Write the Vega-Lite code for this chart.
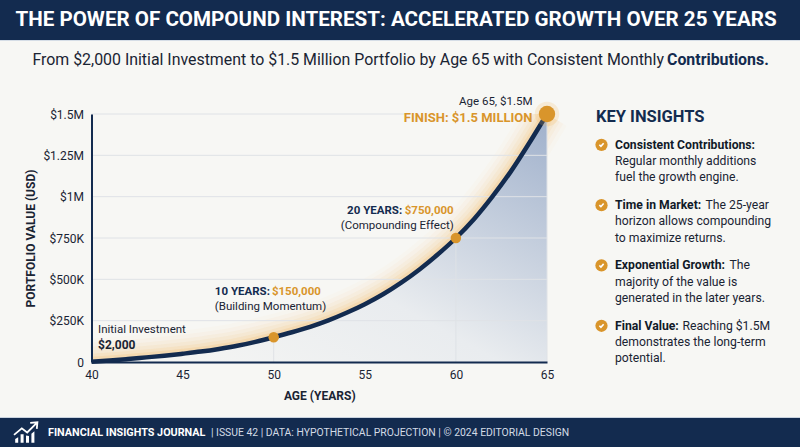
{
"$schema":"https://vega.github.io/schema/vega-lite/v6.json",
"padding":0,"background":"#f7f7f4","spacing":0,"bounds":"flush",
"config":{"view":{"stroke":null},"font":"Roboto","concat":{"spacing":0}},
"datasets":{
"curve":[{"age":40,"v":2000},{"age":41,"v":9000},{"age":42,"v":18000},{"age":43,"v":28000},{"age":44,"v":38000},{"age":45,"v":50000},{"age":46,"v":63000},{"age":47,"v":79000},{"age":48,"v":98000},{"age":49,"v":122000},{"age":50,"v":150000},{"age":51,"v":180000},{"age":52,"v":213000},{"age":53,"v":252000},{"age":54,"v":298000},{"age":55,"v":350000},{"age":56,"v":410000},{"age":57,"v":480000},{"age":58,"v":560000},{"age":59,"v":650000},{"age":60,"v":750000},{"age":61,"v":865000},{"age":62,"v":1000000},{"age":63,"v":1150000},{"age":64,"v":1320000},{"age":65,"v":1500000}],
"insights":[
{"item":1,"line":1,"indent":68,"weight":"b","text":"Consistent Contributions:"},
{"item":1,"line":2,"indent":68,"weight":"r","text":"Regular monthly additions"},
{"item":1,"line":3,"indent":68,"weight":"r","text":"fuel the growth engine."},
{"item":2,"line":1,"indent":68,"weight":"b","text":"Time in Market:"},
{"item":2,"line":1,"indent":158.5,"weight":"r","text":"The 25-year"},
{"item":2,"line":2,"indent":68,"weight":"r","text":"horizon allows compounding"},
{"item":2,"line":3,"indent":68,"weight":"r","text":"to maximize returns."},
{"item":3,"line":1,"indent":68,"weight":"b","text":"Exponential Growth:"},
{"item":3,"line":1,"indent":182.5,"weight":"r","text":"The"},
{"item":3,"line":2,"indent":68,"weight":"r","text":"majority of the value is"},
{"item":3,"line":3,"indent":68,"weight":"r","text":"generated in the later years."},
{"item":4,"line":1,"indent":68,"weight":"b","text":"Final Value:"},
{"item":4,"line":1,"indent":135.5,"weight":"r","text":"Reaching $1.5M"},
{"item":4,"line":2,"indent":68,"weight":"r","text":"demonstrates the long-term"},
{"item":4,"line":3,"indent":68,"weight":"r","text":"potential."}
],
"bullets":[{"item":1,"line":1,"indent":54.5},{"item":2,"line":1,"indent":54.5},{"item":3,"line":1,"indent":54.5},{"item":4,"line":1,"indent":54.5}]
},
"vconcat":[
{"width":800,"height":40,"view":{"fill":"#132b4f","stroke":null},"data":{"values":[{"t":"THE POWER OF COMPOUND INTEREST: ACCELERATED GROWTH OVER 25 YEARS"}]},
 "mark":{"type":"text","fontSize":20.6,"fontWeight":"bold","color":"#ffffff","dx":-4},"encoding":{"text":{"field":"t"}}},
{"width":800,"height":1,"view":{"fill":"#d5dde6","stroke":null},"data":{"values":[{"t":""}]},"mark":{"type":"text"},"encoding":{"text":{"field":"t"}}},
{"width":800,"height":38,"data":{"values":[{"run":"main","t":"From $2,000 Initial Investment to $1.5 Million Portfolio by Age 65 with Consistent Monthly"},{"run":"bold","t":"Contributions."}]},
 "layer":[
 {"transform":[{"filter":"datum.run==='main'"}],"mark":{"type":"text","fontSize":15.9,"align":"right","color":"#1a2433"},"encoding":{"x":{"field":"run","type":"nominal","axis":null,"scale":{"domain":["main","bold"],"range":[664,667],"padding":0}},"text":{"field":"t"}}},
 {"transform":[{"filter":"datum.run==='bold'"}],"mark":{"type":"text","fontSize":15.9,"fontWeight":"bold","align":"left","color":"#132b4f"},"encoding":{"x":{"field":"run","type":"nominal","axis":null,"scale":{"domain":["main","bold"],"range":[664,667],"padding":0}},"text":{"field":"t"}}}
 ]},
{"width":800,"height":35,"data":{"values":[{"t":""}]},"mark":{"type":"text"},"encoding":{"text":{"field":"t"}}},
{"width":800,"height":248,
 "title":{"text":"KEY INSIGHTS","anchor":"start","frame":"group","dx":596,"dy":29,"offset":-9,"baseline":"middle","fontSize":16.5,"fontWeight":"bold","color":"#132b4f","font":"Roboto"},
 "layer":[
 {"encoding":{"x":{"field":"age","type":"quantitative","scale":{"domain":[40,65],"nice":false,"range":[91.5,547]},"axis":{"labelFlush":false,"values":[40,45,50,55,60,65],"title":"AGE (YEARS)","titleFontSize":12,"titleFontWeight":"bold","titleColor":"#1a2433","titlePadding":10,"labelFontSize":12,"labelColor":"#1a2433","labelPadding":7,"ticks":false,"grid":false,"domainColor":"#132b4f","domainWidth":2,"zindex":1}},
   "y":{"field":"v","type":"quantitative","scale":{"domain":[0,1500000],"nice":false},"axis":{"labelFlush":false,"offset":-91.5,"values":[0,250000,500000,750000,1000000,1250000,1500000],"labelExpr":"datum.value==0?'0':datum.value>=1000000?'$'+datum.value/1000000+'M':'$'+datum.value/1000+'K'","title":"PORTFOLIO VALUE (USD)","titleFontSize":12,"titleFontWeight":"bold","titleColor":"#1a2433","titlePadding":5,"labelFontSize":12,"labelColor":"#1a2433","labelPadding":8,"ticks":false,"grid":false,"domainColor":"#132b4f","domainWidth":2,"zindex":1}}},
  "layer":[
  {"data":{"name":"curve"},"mark":{"type":"line","interpolate":"monotone","stroke":"#fbd8a4","strokeWidth":46,"opacity":0.06,"clip":true}},
  {"data":{"name":"curve"},"mark":{"type":"line","interpolate":"monotone","stroke":"#f9cc88","strokeWidth":38,"opacity":0.07,"clip":true}},
  {"data":{"name":"curve"},"mark":{"type":"line","interpolate":"monotone","stroke":"#f8c274","strokeWidth":30,"opacity":0.08,"clip":true}},
  {"data":{"name":"curve"},"mark":{"type":"line","interpolate":"monotone","stroke":"#f6b95f","strokeWidth":23,"opacity":0.09,"clip":true}},
  {"data":{"name":"curve"},"mark":{"type":"line","interpolate":"monotone","stroke":"#f4ac45","strokeWidth":16,"opacity":0.1,"clip":true}},
  {"data":{"name":"curve"},"mark":{"type":"line","interpolate":"monotone","stroke":"#f2a33a","strokeWidth":10,"opacity":0.14,"clip":true}},
  {"data":{"name":"curve"},"mark":{"type":"area","interpolate":"monotone","fill":{"gradient":"linear","x1":0,"y1":1,"x2":1,"y2":0,"stops":[{"offset":0,"color":"#f7f7f4"},{"offset":0.45,"color":"#e9ecef"},{"offset":1,"color":"#9fb0cb"}]}}},
  {"data":{"values":[{"g":250000,"a":40,"b":65},{"g":500000,"a":40,"b":65},{"g":750000,"a":40,"b":65},{"g":1000000,"a":40,"b":65},{"g":1250000,"a":40,"b":65},{"g":1500000,"a":40,"b":57.2}]},"mark":{"type":"rule","stroke":"#dfe2e6","strokeWidth":1},"encoding":{"y":{"field":"g","type":"quantitative"},"x":{"field":"a","type":"quantitative"},"x2":{"field":"b"}}},
  {"data":{"values":[{"a":50,"v":150000},{"a":60,"v":750000},{"a":65,"v":1500000}]},"mark":{"type":"rule","stroke":"#dfe2e6","strokeWidth":1},"encoding":{"x":{"field":"a","type":"quantitative"},"y":{"field":"v","type":"quantitative"},"y2":{"datum":0}}},
  {"data":{"name":"curve"},"mark":{"type":"line","interpolate":"monotone","stroke":"#132b4f","strokeWidth":4.5}},
  {"data":{"values":[{"age":65,"v":1500000}]},"mark":{"type":"point","filled":true,"fill":"#f6b95f","opacity":0.2,"size":600}},
  {"data":{"values":[{"age":50,"v":150000},{"age":60,"v":750000}]},"mark":{"type":"point","filled":true,"fill":"#d9952b","opacity":1,"size":110}},
  {"data":{"values":[{"age":65,"v":1500000}]},"mark":{"type":"point","filled":true,"fill":"#d9952b","opacity":1,"size":270}},
  {"data":{"values":[{"age":46.77,"v":423000,"t":"10 YEARS:"}]},"mark":{"type":"text","align":"left","fontSize":11.5,"fontWeight":"bold","color":"#132b4f"},"encoding":{"text":{"field":"t"}}},
  {"data":{"values":[{"age":57.05,"v":913000,"t":"20 YEARS:"}]},"mark":{"type":"text","align":"right","fontSize":11.5,"fontWeight":"bold","color":"#132b4f"},"encoding":{"text":{"field":"t"}}},
  {"data":{"values":[{"age":49.9,"v":423000,"t":"$150,000"}]},"mark":{"type":"text","align":"left","fontSize":11.5,"fontWeight":"bold","color":"#d9952b"},"encoding":{"text":{"field":"t"}}},
  {"data":{"values":[{"age":59.88,"v":913000,"t":"$750,000"}]},"mark":{"type":"text","align":"right","fontSize":11.5,"fontWeight":"bold","color":"#d9952b"},"encoding":{"text":{"field":"t"}}},
  {"data":{"values":[{"age":46.77,"v":333000,"t":"(Building Momentum)"},{"age":40.36,"v":193000,"t":"Initial Investment"}]},"mark":{"type":"text","align":"left","fontSize":11.5,"color":"#1a2433"},"encoding":{"text":{"field":"t"}}},
  {"data":{"values":[{"age":40.36,"v":103000,"t":"$2,000"}]},"mark":{"type":"text","align":"left","fontSize":12,"fontWeight":"bold","color":"#1a2433"},"encoding":{"text":{"field":"t"}}},
  {"data":{"values":[{"age":59.88,"v":823000,"t":"(Compounding Effect)"},{"age":64.2,"v":1573000,"t":"Age 65, $1.5M"}]},"mark":{"type":"text","align":"right","fontSize":11.5,"color":"#1a2433"},"encoding":{"text":{"field":"t"}}},
  {"data":{"values":[{"age":64.2,"v":1476000,"t":"FINISH: $1.5 MILLION"}]},"mark":{"type":"text","align":"right","fontSize":13,"fontWeight":"bold","color":"#d9952b"},"encoding":{"text":{"field":"t"}}}
  ]},
 {"encoding":{"x":{"field":"indent","type":"quantitative","axis":null,"scale":{"domain":[0,253],"range":[547,800],"nice":false,"zero":false}},
   "y":{"field":"item","type":"ordinal","axis":null,"scale":{"domain":[1,2,3,4],"range":[47,288.3],"padding":0}},
   "yOffset":{"field":"line","type":"quantitative","scale":{"domain":[1,3],"range":[-16.2,16.2]}}},
  "layer":[
  {"data":{"name":"bullets"},"mark":{"type":"point","filled":true,"fill":"#d9952b","opacity":1,"size":150}},
  {"data":{"name":"bullets"},"mark":{"type":"point","shape":"M-0.55,0L-0.15,0.4L0.55,-0.4","filled":false,"stroke":"#ffffff","strokeWidth":1.6,"opacity":1,"size":60}},
  {"data":{"name":"insights"},"transform":[{"filter":"datum.weight==='r'"}],"mark":{"type":"text","align":"left","fontSize":12.2,"color":"#1a2433"},"encoding":{"text":{"field":"text"}}},
  {"data":{"name":"insights"},"transform":[{"filter":"datum.weight==='b'"}],"mark":{"type":"text","align":"left","fontSize":12.2,"fontWeight":"bold","color":"#111a28"},"encoding":{"text":{"field":"text"}}}
  ]}
 ],
 "resolve":{"scale":{"x":"independent","y":"independent","yOffset":"independent"}}},
{"width":800,"height":55,"data":{"values":[{"t":""}]},"mark":{"type":"text"},"encoding":{"text":{"field":"t"}}},
{"width":800,"height":1,"view":{"fill":"#c9d3df","stroke":null},"data":{"values":[{"t":""}]},"mark":{"type":"text"},"encoding":{"text":{"field":"t"}}},
{"width":800,"height":29,"view":{"fill":"#132b4f","stroke":null},
 "layer":[
 {"data":{"values":[{"k":"icon"}]},"mark":{"type":"point","filled":true,"fill":"#ffffff","opacity":1,"size":576,"shape":"M-0.9,0.85L-0.65,0.85L-0.65,0.4L-0.9,0.55ZM-0.45,0.85L-0.2,0.85L-0.2,0.15L-0.45,0.15ZM0,0.85L0.25,0.85L0.25,0.3L0,0.25ZM0.45,0.85L0.7,0.85L0.7,-0.1L0.45,0.1Z"},"encoding":{"x":{"field":"k","type":"nominal","axis":null,"scale":{"domain":["icon","x"],"range":[26,100],"padding":0}}}},
 {"data":{"values":[{"k":"icon"}]},"mark":{"type":"point","filled":false,"stroke":"#ffffff","strokeWidth":1.8,"opacity":1,"size":576,"shape":"M-1,0.2L-0.35,-0.35L0.1,0L0.9,-0.8M0.35,-0.8L0.95,-0.85L0.9,-0.3"},"encoding":{"x":{"field":"k","type":"nominal","axis":null,"scale":{"domain":["icon","x"],"range":[26,100],"padding":0}}}},
 {"data":{"values":[{"run":"a","t":"FINANCIAL INSIGHTS JOURNAL"}]},"mark":{"type":"text","align":"left","fontSize":10.8,"fontWeight":"bold","color":"#ffffff"},"encoding":{"x":{"field":"run","type":"nominal","axis":null,"scale":{"domain":["a","b"],"range":[48,211],"padding":0}},"text":{"field":"t"}}},
 {"data":{"values":[{"run":"b","t":"| ISSUE 42 | DATA: HYPOTHETICAL PROJECTION | © 2024 EDITORIAL DESIGN"}]},"mark":{"type":"text","align":"left","fontSize":10.4,"color":"#d3dbe6"},"encoding":{"x":{"field":"run","type":"nominal","axis":null,"scale":{"domain":["a","b"],"range":[48,211],"padding":0}},"text":{"field":"t"}}}
 ],"resolve":{"scale":{"x":"independent"}}}
]
}
